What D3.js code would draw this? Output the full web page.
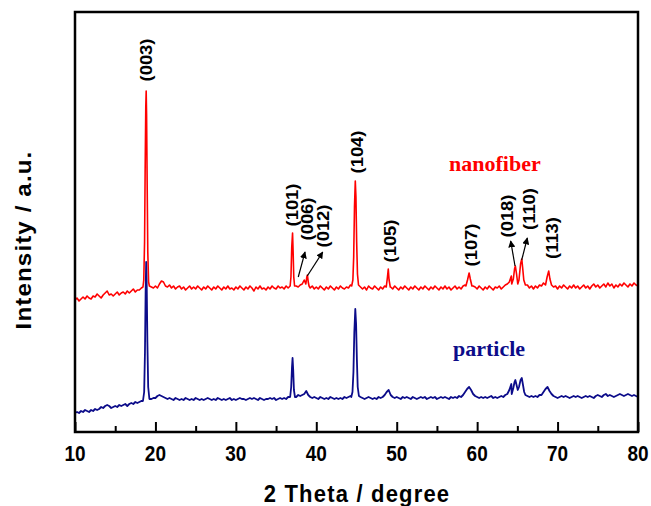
<!DOCTYPE html>
<html><head><meta charset="utf-8">
<script src="https://cdn.jsdelivr.net/npm/d3@7"></script>
<style>body{margin:0;background:#fff} svg{display:block}</style>
</head><body>
<svg id="c" width="651" height="506"></svg>
<script>
// ---- data ----
const scanStart = 10, scanStep = 0.25;
const nanofiberBackground = [
132,134,131,133, 135,133,136,134, 133,136,135,138, 136,134,137,139, 141,137,138,136,
138,140,137,139, 140,138,141,139, 141,143,140,142, 142,144,143,145, 146,143,145,144,
146,144,148,151, 150,146,145,147, 144,146,143,145, 146,143,145,142, 144,146,143,145,
143,146,144,142, 145,143,146,144, 142,145,143,146, 144,142,145,143, 146,143,144,142,
145,143,146,144, 142,145,143,146, 144,141,145,143, 146,143,144,142, 145,143,146,144,
143,146,144,145, 143,146,144,147, 145,144,146,145, 147,148,152,148, 146,144,146,143,
145,143,146,144, 142,145,143,146, 144,142,145,143, 146,144,143,145, 144,147,145,146,
146,144,145,143, 145,142,146,144, 143,146,144,142, 145,143,146,145, 147,145,143,146,
144,142,145,143, 146,144,142,145, 143,146,144,142, 145,143,146,144, 142,145,143,146,
144,142,145,143, 146,143,145,142, 144,146,143,145, 143,146,147,150, 158,150,146,145,
143,146,144,142, 145,143,146,144, 142,145,144,146, 143,145,147,148, 150,156,160,152,
150,165,150,147, 145,147,144,146, 143,146,144,147, 146,149,155,158, 152,147,145,146,
143,146,144,147, 145,143,146,144, 147,144,146,143, 145,147,144,146, 143,146,148,145,
147,144,146,148, 145,149,146,148, 144,147,145,148, 146,149,147,145, 148,146,149,147,
146];
const particleBackground = [
19,20,19,21, 20,22,21,20, 22,21,23,22, 23,25,24,26, 27,26,24,25,
26,25,27,26, 27,28,26,28, 29,28,30,29, 30,31,30,31, 32,31,33,34,
34,36,37,36, 35,34,33,34, 33,32,34,33, 32,33,32,34, 33,32,33,32,
34,33,32,33, 32,33,34,33, 32,33,32,34, 33,32,33,32, 33,34,32,33,
32,33,34,33, 33,32,33,34, 33,34,33,32, 34,33,32,33, 33,34,33,34,
32,33,34,33, 34,33,35,34, 35,36,35,37, 36,37,38,41, 37,35,34,35,
34,33,35,34, 33,34,33,35, 34,33,34,33, 34,33,35,34, 35,36,35,36,
35,34,35,34, 33,34,35,34, 33,34,33,35, 34,35,37,40, 42,37,35,34,
35,34,33,35, 34,35,34,33, 35,34,33,34, 35,34,35,33, 34,35,34,35,
33,34,35,34, 35,34,33,35, 34,35,34,36, 35,37,40,43, 45,42,38,36,
35,34,35,34, 35,34,35,36, 34,35,34,35, 36,35,37,38, 42,48,52,46,
44,52,48,40, 37,36,35,36, 35,36,35,37, 37,40,43,45, 41,38,36,35,
34,35,36,35, 36,35,34,35, 36,35,36,35, 34,35,36,35, 36,35,34,36,
37,36,35,37, 38,36,37,36, 35,36,37,38, 37,36,37,38, 37,36,37,36,
35];
const nanofiberPeaks = [
  [[18.45,145],[18.55,152],[18.65,190],[18.72,260],[18.8,325],[18.85,341],[18.9,318],[18.97,250],[19.05,180],[19.15,150],[19.25,146]],
  [[36.75,146],[36.85,155],[36.95,185],[37.05,199],[37.12,180],[37.2,155],[37.3,146]],
  [[38.7,148],[38.82,155],[38.9,157],[39.0,150],[39.1,146]],
  [[44.4,146],[44.55,152],[44.65,175],[44.75,225],[44.85,251],[44.93,235],[45.02,190],[45.12,158],[45.25,147]],
  [[48.7,145],[48.85,155],[48.95,163],[49.05,152],[49.2,145]],
  [[58.6,146],[58.8,152],[59.0,159],[59.15,153],[59.35,146]],
  [[64.3,148],[64.5,153],[64.65,163],[64.75,166],[64.9,158],[65.05,148],[65.2,152],[65.4,168],[65.55,173],[65.65,165],[65.8,152],[66.0,147]],
  [[68.5,147],[68.7,155],[68.9,161],[69.05,153],[69.25,147]]
];
const particlePeaks = [
  [[18.45,31],[18.6,40],[18.7,80],[18.78,140],[18.85,170],[18.92,145],[19.0,90],[19.1,45],[19.25,33]],
  [[36.75,35],[36.88,45],[36.98,65],[37.05,74],[37.13,62],[37.22,42],[37.35,35]],
  [[44.35,35],[44.5,40],[44.62,60],[44.73,100],[44.85,123],[44.95,108],[45.05,72],[45.15,45],[45.3,36]],
  [[64.3,38],[64.5,44],[64.65,50],[64.75,52],[64.9,47],[65.05,42],[65.2,45],[65.4,52],[65.55,54],[65.68,48],[65.85,40],[66.0,37]]
];
const xTicks = [10,20,30,40,50,60,70,80];
const xMinorTicks = [15,25,35,45,55,65,75];
const seriesNames = ["nanofiber","particle"];
const seriesColors = ["#ff0000","#0c0c8a"];
const seriesLabelPos = [[56.5,261],[57.0,76]];
const peakLabels = [
  {t:"(003)", theta:18.83, v:372},
  {t:"(101)", theta:37.04, v:227},
  {t:"(006)", theta:38.94, v:213},
  {t:"(012)", theta:40.85, v:206},
  {t:"(104)", theta:45.15, v:280},
  {t:"(105)", theta:49.17, v:191},
  {t:"(107)", theta:59.3,  v:187},
  {t:"(018)", theta:63.7,  v:216},
  {t:"(110)", theta:66.55, v:223},
  {t:"(113)", theta:69.3,  v:194}
];
const arrows = [
  [[37.76,155],[38.6,180]],
  [[38.88,156],[40.8,180]],
  [[64.71,166],[64.17,191]],
  [[65.54,172],[66.24,194]]
];

// ---- chart ----
const W=651,H=506, L=75, R=638, T=12, B=432;
const svg = d3.select("#c");
const x = d3.scaleLinear().domain([10,80]).range([L,R]);
const y = d3.scaleLinear().domain([0,420]).range([B,T]);

function merge(bg, peaks){
  let pts = bg.map((v,i)=>[scanStart+i*scanStep, v]);
  peaks.forEach(p=>{
    const a=p[0][0], b=p[p.length-1][0];
    pts = pts.filter(d=>d[0]<a || d[0]>b);
    pts = pts.concat(p);
  });
  return pts.sort((p,q)=>p[0]-q[0]);
}
const series = [merge(nanofiberBackground,nanofiberPeaks), merge(particleBackground,particlePeaks)];

const line = d3.line().x(d=>x(d[0])).y(d=>y(d[1]));
svg.append("defs").append("clipPath").attr("id","clip").append("rect")
  .attr("x",L).attr("y",T).attr("width",R-L).attr("height",B-T);
series.forEach((s,i)=>{
  svg.append("path").datum(s).attr("d",line).attr("fill","none")
    .attr("stroke",seriesColors[i]).attr("stroke-width",i===0?1.6:1.8)
    .attr("stroke-linejoin","round").attr("clip-path","url(#clip)");
});

// frame
svg.append("rect").attr("x",L).attr("y",T).attr("width",R-L).attr("height",B-T)
  .attr("fill","none").attr("stroke","#000").attr("stroke-width",2.5);

// bottom axis, ticks inward
const ax = svg.append("g").attr("transform",`translate(0,${B})`);
ax.call(d3.axisBottom(x).tickValues(xTicks).tickSize(-10).tickFormat(""));
ax.append("g").call(d3.axisBottom(x).tickValues(xMinorTicks).tickSize(-6).tickFormat(""));
ax.selectAll(".domain").remove();
ax.selectAll("line").attr("stroke","#000").attr("stroke-width",2);
svg.append("g").selectAll("text").data(xTicks).join("text")
  .attr("transform",d=>`translate(${x(d)},461) scale(1,1.15)`)
  .attr("text-anchor","middle")
  .attr("font-family","'Liberation Sans', Arial, sans-serif").attr("font-weight","bold")
  .attr("font-size",19).text(d=>d);

// axis titles
svg.append("text").attr("transform",`translate(357,502) scale(1,1.1)`)
  .attr("text-anchor","middle").attr("font-family","'Liberation Sans', Arial, sans-serif")
  .attr("font-weight","bold").attr("font-size",22).attr("letter-spacing",1.2).text("2 Theta / degree");
svg.append("text").attr("transform",`translate(31,240) scale(1,1.1) rotate(-90)`)
  .attr("text-anchor","middle").attr("font-family","'Liberation Sans', Arial, sans-serif")
  .attr("font-weight","bold").attr("font-size",22).attr("letter-spacing",1.0).text("Intensity / a.u.");

// peak labels
svg.append("g").selectAll("text").data(peakLabels).join("text")
  .attr("transform",d=>`translate(${x(d.theta)},${y(d.v)}) scale(1,1.15) rotate(-90)`)
  .attr("text-anchor","middle").attr("dy","0.35em")
  .attr("font-family","'Liberation Sans', Arial, sans-serif").attr("font-weight","bold")
  .attr("font-size",16).attr("fill","#000").text(d=>d.t);

// arrows
const defs = svg.select("defs");
defs.append("marker").attr("id","ah").attr("viewBox","0 0 10 10").attr("refX",9).attr("refY",5)
  .attr("markerWidth",7).attr("markerHeight",7).attr("markerUnits","userSpaceOnUse").attr("orient","auto")
  .append("path").attr("d","M0,0 L10,5 L0,10 Z").attr("fill","#000");
svg.append("g").selectAll("line").data(arrows).join("line")
  .attr("x1",d=>x(d[0][0])).attr("y1",d=>y(d[0][1]))
  .attr("x2",d=>x(d[1][0])).attr("y2",d=>y(d[1][1]))
  .attr("stroke","#000").attr("stroke-width",1.2).attr("marker-end","url(#ah)");

// series labels
svg.append("g").selectAll("text").data(seriesNames).join("text")
  .attr("x",(d,i)=>x(seriesLabelPos[i][0])).attr("y",(d,i)=>y(seriesLabelPos[i][1]))
  .attr("font-family","'Liberation Serif', 'Times New Roman', serif").attr("font-weight","bold")
  .attr("font-size",22).attr("fill",(d,i)=>seriesColors[i]).text(d=>d);
</script>
</body></html>
